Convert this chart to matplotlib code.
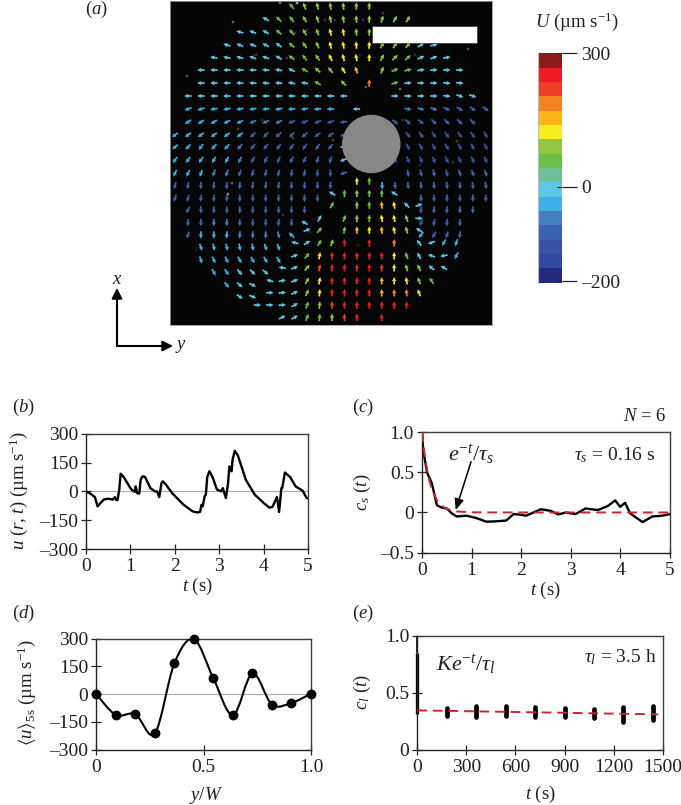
import numpy as np
import matplotlib
matplotlib.use("Agg")
import matplotlib.pyplot as plt
from matplotlib.colors import ListedColormap, BoundaryNorm
from matplotlib.patches import Circle, Rectangle, PathPatch, FancyArrowPatch
from matplotlib.path import Path

plt.rcParams['font.family'] = ['Liberation Serif', 'DejaVu Serif']
plt.rcParams['mathtext.fontset'] = 'custom'
plt.rcParams['mathtext.rm'] = 'Liberation Serif'
plt.rcParams['mathtext.it'] = 'Liberation Serif:italic'
plt.rcParams['mathtext.fallback'] = 'stix'

W, H = 681, 805
FS = 13.5
TICK_FS = 14
TXT = '#231f20'
FRAME = '#3d3d3d'

# colour bands of the colour bar, bottom to top
BAND_COLORS = ['#262a7c', '#2f4a9e', '#3853a4', '#3b62ad', '#4380c2', '#3db1e6', '#5cc8e8', '#6dc19a',
               '#6abd45', '#8fc740', '#f7ec1e', '#fdb515', '#f58220', '#ee3e24', '#ed1c24', '#8b1a1a']
BAND_TICKS = [16, 6.7, 0.1]
BAND_LABELS = ['300', '0', '\u2013200']

# vector field, outer grid: row position, first column, colour band (hex, '.' = no arrow), direction in degrees
OUTER_Y = [6, 19, 32, 45, 57.5, 70, 83, 96, 109, 122, 135, 147, 160, 173.3, 185.7, 198.3, 210, 222.7, 235,
           247.3, 260, 272.3, 285, 296.7]
OUTER_START = [9, 7, 5, 4, 3, 2, 2, 1, 1, 1, 0, 0, 0, 0, 0, 0, 1, 1, 1, 2, 2, 3, 4, 5]
OUTER_BANDS = [
    "8999999",
    "688999999999",
    "6668899aa99",
    "66666899aaaa99966",
    "666666889aaaa998666",
    "66666666899ab.9886666",
    "6666666668.9.c.866666",
    "6666666666666...6666666",
    "555555555555.6...4443333",
    "5555544433333...3333333",
    "55555533333333....2222222",
    "5555543333333 6....2222222".replace(" ", ""),
    "5555543333333 6...22222222".replace(" ", ""),
    "5554433333333 3....33333333".replace(" ", ""),
    "3333333333333...533333333",
    "333333333333.......333333",
    "3333333333........33333",
    "3344333336........3333",
    "355544445.........5333",
    "5555555",
    "5555555",
    "55666",
    "566",
    "66",
]
OUTER_ANGLES = [
    [130, 110, 105, 100, 95, 90, 90],
    [150, 135, 125, 120, 110, 105, 100, 95, 90, 75, 60, 60],
    [165, 160, 150, 140, 130, 120, 110, 105, 100, 95, 90],
    [165, 160, 160, 155, 145, 140, 125, 115, 105, 100, 95, 85, 60, 55, 50, 30, 15],
    [170, 170, 165, 160, 160, 150, 145, 130, 125, 115, 105, 100, 90, 60, 45, 40, 25, 20, 10],
    [180, 180, 180, 180, 180, 175, 170, 155, 150, 140, 130, 120, 110, 70, 25, 15, 10, 5, 0, 0],
    [180, 180, 180, 175, 175, 175, 175, 170, 170, 150, 135, 90, 15, 5, 0, 0, -5, -5],
    [180, 180, 180, 180, 180, 180, 180, 180, 180, 180, 180, 180, 180, 0, 0, 0, 0, -5, -20, -20],
    [200, 195, 190, 190, 190, 190, 185, 190, 185, 190, 185, 180, 180, -10, -15, -20, -25, -30, -35, -35],
    [215, 210, 210, 205, 205, 205, 205, 205, 200, 200, 200, 200, 190, -35, -40, -40, -45, -45, -45, -45],
    [215, 215, 215, 215, 215, 215, 225, 225, 225, 225, 220, 215, 215, 200, -50, -60, -55, -55, -55, -55, -60],
    [220, 225, 230, 225, 225, 230, 230, 230, 235, 235, 235, 235, 230, 180, -60, -60, -60, -60, -65, -65, -65],
    [235, 235, 235, 240, 240, 240, 240, 245, 245, 245, 245, 250, 250, 200, -70, -65, -65, -65, -65, -65, -65, -65],
    [245, 245, 250, 250, 250, 250, 255, 255, 255, 260, 260, 265, 270, 200, -80, -75, -75, -75, -70, -70, -70, -70],
    [255, 260, 265, 265, 265, 265, 265, 265, 265, 270, 270, 270, 270, 270, 275, -85, -85, -85, -85, -85, -80, -80],
    [250, 255, 260, 265, 265, 270, 270, 270, 270, 270, 270, 270, -90, -90, -90, -90, -90, -90],
    [240, 270, 270, 270, 270, 270, 270, 270, 270, 270, -100, -95, -95, -95, -95],
    [265, 270, 270, 270, 270, 270, 270, 265, 270, 150, -110, -100, -95, -95],
    [250, 270, 270, 265, 265, 270, 270, 285, 135, 230, 240, 250, 260],
    [290, 285, 285, 280, 280, 290, 290],
    [290, 295, 295, 300, 300, 300, 300],
    [300, 305, 310, 315, 320],
    [310, 320, 335],
    [325, 340],
]

# vector field, inner grid around and below the obstacle
INNER_Y = [181, 193.3, 205, 218.3, 230, 242.7, 255.7, 267.7, 280.7, 292.7, 305, 317.3]
INNER_START = [-1, -3, -3, -4, -5, -6, -6, -7, -8, -8, -9, -7]
INNER_BANDS = [
    "a8",
    "689886",
    "8.98ba66",
    "6.898aa96",
    "68.8baba96",
    "6689e.e.c.6655",
    "68aeeeeea86665",
    "669deeeeda9966",
    "6669aeeeebaa98",
    "6669aeeeebcca",
    "666689deeeeee",
    "66889de.e",
]
INNER_ANGLES = [
    [90, 90],
    [150, 90, 90, 90, 90, 150],
    [60, 90, 90, 95, 100, 135, 20],
    [60, 70, 90, 90, 100, 100, 110, 0],
    [20, 50, 80, 90, 90, 95, 100, 105, 150],
    [165, 30, 60, 70, 90, 90, 90, 130, 200, 240, 250],
    [20, 50, 80, 90, 90, 90, 90, 90, 90, 110, 120, 160, 190, 240],
    [170, 20, 50, 80, 85, 90, 90, 90, 90, 90, 105, 115, 140, 150],
    [165, 10, 20, 60, 80, 85, 90, 90, 90, 90, 90, 100, 110, 125],
    [0, 5, 25, 65, 85, 90, 90, 90, 90, 90, 90, 95, 110],
    [0, 0, 5, 30, 70, 85, 90, 90, 90, 90, 90, 90, 90],
    [25, 30, 70, 85, 90, 90, 90, 90],
]

# faint specks in the micrograph
SPECK_X = [297, 280, 233, 187, 468, 400, 366, 287, 383, 363, 335, 325, 295, 307, 317, 392, 360, 256, 277, 293, 238,
           403, 423, 457, 453, 232, 228, 415, 283, 310, 358, 196, 262, 333, 420]
SPECK_Y = [3, 3, 22, 76, 49, 89, 87, 58, 13, 20, 20, 20, 33, 30, 32, 70, 55, 55, 135, 138, 129, 120, 136, 141, 162,
           183, 194, 55, 215, 232, 245, 250, 120, 140, 165]
SPECK_C = ['#a898a8', '#6a6a6a', '#5a5a5a', '#585858', '#505050', '#606060', '#505050', '#5a2360', '#501e58', '#5a2360',
           '#501e58', '#501e58', '#501e58', '#501e58', '#501e58', '#3a1a40', '#18204a', '#4a3434', '#4b4018', '#4b4018',
           '#4b4018', '#352f10', '#352f10', '#4b4018', '#352f10', '#6a5a30', '#908050', '#3a1a40', '#352a10', '#352a10',
           '#2a1e10', '#2a1e10', '#352a10', '#4b4018', '#352a10']

# panel b
B_T = [0, .1, .2, .26, .33, .4, .5, .6, .65, .68, .71, .75, .78, .85, 1, 1.05, 1.1, 1.12, 1.15, 1.2, 1.23, 1.27, 1.33,
       1.45, 1.55, 1.6, 1.65, 1.7, 1.73, 1.8, 1.95, 2.2, 2.4, 2.5, 2.57, 2.6, 2.63, 2.67, 2.7, 2.73, 2.78, 2.85, 2.95,
       3.05, 3.08, 3.15, 3.2, 3.23, 3.28, 3.3, 3.35, 3.42, 3.6, 3.8, 4, 4.13, 4.2, 4.3, 4.35, 4.4, 4.42, 4.48, 4.6,
       4.72, 4.88, 4.97, 5]
B_U = [0, -12, -30, -78, -60, -43, -38, -43, -30, -45, -45, 10, 92, 74, 17, 4, -2, 26, -9, -12, 60, 78, 75,
       17, 0, 0, -30, 43, 52, 35, -12, -70, -104, -110, -107, -70, -78, -26, -17, 74, 105, 74, 9,
       0, 17, -35, 43, 130, 104, 164, 211, 187, 60, -17, -60, -85, -81, -30, -107, 17, 17, 98, 74,
       26, 3, -35, -36]

# panel c
C_T = [0, .02, .1, .2, .3, .4, .5, .6, .7, .9, 1.1, 1.3, 1.5, 1.7, 1.85, 1.95, 2.1, 2.25, 2.4, 2.6, 2.75, 2.9, 3.1, 3.3,
       3.55, 3.75, 3.9, 4, 4.1, 4.2, 4.45, 4.65, 4.85, 5]
C_S = [1, .8, .5, .36, .09, .06, .05, -.01, -.05, -.04, -.07, -.115, -.11, -.10, -.02, -.025, -.04, 0, .04, .02, -.025, 0,
       -.02, .05, .03, .08, .15, .07, .12, -.01, -.12, -.05, -.04, -.02]
C_FIT_T = [0, .05, .1, .15, .2, .3, .4, .5, .7, 1, 1.5, 5]
C_FIT = [1, .73, .535, .39, .287, .153, .082, .044, .0125, .002, 0, 0]

# panel d
D_Y = [0, .0909, .1818, .2727, .3636, .4545, .5455, .6364, .7273, .8182, .9091, 1]
D_U = [0, -112, -108, -212, 167, 298, 85, -113, 112, -56, -47, 3]

# panel e
E_T = [180, 360, 540, 720, 900, 1080, 1260, 1440]
E_LOW = [.295, .287, .30, .289, .289, .28, .245, .263]
E_HIGH = [.368, .386, .383, .371, .368, .36, .374, .38]
E_FIT_T = [0, 1473]
E_FIT = [.345, .31]


def px_ax(x0, y0, x1, y1):
    return fig.add_axes([x0 / W, 1 - y1 / H, (x1 - x0) / W, (y1 - y0) / H])


def label(x, y, s, **kw):
    kw.setdefault('fontsize', FS)
    kw.setdefault('ha', 'center')
    kw.setdefault('va', 'center')
    fig.text(x / W, 1 - y / H, s, color=TXT, **kw)


def style_ax(ax, xt, xl, yt, yl):
    ax.set_xticks(xt)
    ax.set_xticklabels(xl)
    ax.set_yticks(yt)
    ax.set_yticklabels(yl)
    ax.tick_params(direction='inout', length=7.5, width=0.9, color='#222222', labelsize=TICK_FS, labelcolor=TXT)
    ax.tick_params(axis='y', pad=2)
    ax.tick_params(axis='x', pad=3)
    for s in ax.spines.values():
        s.set_color(FRAME)
        s.set_linewidth(1.0)
    ax.spines['left'].set_color('#222222')
    ax.spines['bottom'].set_color('#222222')


fig = plt.figure(figsize=(W / 100, H / 100), dpi=100, facecolor='white')

# panel a
ax = px_ax(170, 1, 491.7, 325)
ax.set_xlim(170, 491.7)
ax.set_ylim(325, 1)
ax.set_facecolor('#050505')
ax.set_xticks([])
ax.set_yticks([])
for s in ax.spines.values():
    s.set_color('#9a9a9a')
    s.set_linewidth(0.6)
ax.scatter(SPECK_X, SPECK_Y, s=4, c=SPECK_C, linewidths=0, zorder=1)

xs, ys, bands, angs = [], [], [], []
for y, start, row, ang in zip(OUTER_Y, OUTER_START, OUTER_BANDS, OUTER_ANGLES):
    used = [c for c, b in enumerate(row) if b != '.']
    for c, a in zip(used, ang):
        xs.append(175 + 12.95 * (start + c))
        ys.append(y)
        bands.append(int(row[c], 16))
        angs.append(a)
for y, start, row, ang in zip(INNER_Y, INNER_START, INNER_BANDS, INNER_ANGLES):
    used = [c for c, b in enumerate(row) if b != '.']
    for c, a in zip(used, ang):
        xs.append(369.3 + 12.43 * (start + c))
        ys.append(y)
        bands.append(int(row[c], 16))
        angs.append(a)
rad = np.radians(angs)
band_cmap = ListedColormap(BAND_COLORS)
band_norm = BoundaryNorm(np.arange(17), 16)
ax.quiver(xs, ys, 7.5 * np.cos(rad), -7.5 * np.sin(rad), bands, cmap=band_cmap, norm=band_norm,
          angles='xy', scale_units='xy', scale=1, pivot='mid', units='xy', width=1.7,
          headwidth=2.6, headlength=2.6, headaxislength=2.3, zorder=2)
ax.add_patch(Circle((371.3, 144), 29.2, facecolor='#878787', edgecolor='none', zorder=3))
ax.add_patch(Rectangle((371.7, 26), 105.6, 17.3, facecolor='white', edgecolor='#222222', linewidth=0.4, zorder=4))

# colour bar
cax = px_ax(537.7, 53.3, 561.7, 282.7)
cax.pcolormesh([0, 1], np.arange(17), np.arange(16).reshape(-1, 1), cmap=band_cmap, norm=band_norm)
cax.set_xticks([])
cax.set_ylim(0, 16)
cax.yaxis.tick_right()
cax.set_yticks(BAND_TICKS)
cax.set_yticklabels(BAND_LABELS)
cax.tick_params(length=11, width=0.9, color='#222222', labelsize=TICK_FS, labelcolor=TXT, pad=3)
cax.hlines(BAND_TICKS, 0.82, 1, color='#222222', linewidth=0.9)
for name, s in cax.spines.items():
    s.set_visible(name == 'left')
    s.set_color('#bbbbbb')
label(577, 22, '$U$ (\u00b5m s$^{-1}$)')

# axes key and panel letter
fa = dict(arrowstyle='-|>,head_length=0.55,head_width=0.28', color='black', lw=1.5, shrinkA=0, shrinkB=0,
          mutation_scale=11)
fig.add_artist(FancyArrowPatch((117 / W, 1 - 346 / H), (117 / W, 1 - 288 / H), transform=fig.transFigure, **fa))
fig.add_artist(FancyArrowPatch((117 / W, 1 - 346 / H), (173 / W, 1 - 346 / H), transform=fig.transFigure, **fa))
label(117, 279, '$x$')
label(181, 346, '$y$')
label(96, 9, '($a$)')

# panel b
ax = px_ax(86, 433.7, 308, 549)
ax.axhline(0, color='#aaaaaa', lw=0.8, zorder=1)
ax.plot(B_T, B_U, color='black', lw=1.7, zorder=3, solid_joinstyle='round')
ax.set_xlim(0, 5)
ax.set_ylim(-300, 300)
style_ax(ax, range(6), [str(i) for i in range(6)], [-300, -150, 0, 150, 300],
         ['\u2013300', '\u2013150', '0', '150', '300'])
label(12, 407, '($b$)', ha='left')
label(19, 491, '$u$ ($r$, $t$) (\u00b5m s$^{-1}$)', rotation=90)
label(197, 586, '$t$ (s)')

# panel c
ax = px_ax(422, 432, 669.7, 552.7)
ax.plot(C_T, C_S, color='black', lw=1.7, zorder=2)
ax.plot(C_FIT_T, C_FIT, color='#d2232a', lw=1.4, dashes=(5, 3), zorder=3)
ax.set_xlim(0, 5)
ax.set_ylim(-.5, 1)
style_ax(ax, range(6), [str(i) for i in range(6)], [-.5, 0, .5, 1], ['\u20130.5', '0', '0.5', '1.0'])
ax.annotate('', xy=(.68, .03), xytext=(.99, .63),
            arrowprops=dict(arrowstyle='-|>,head_length=0.6,head_width=0.25', color='black', lw=1.1, shrinkA=0,
                            shrinkB=0, mutation_scale=11))
label(352, 407, '($c$)', ha='left')
label(666, 416, '$N$ = 6', ha='right')
label(362, 492, '$c_s$ ($t$)', rotation=90)
label(545, 590, '$t$ (s)')
label(471, 455, r'$e^{-t}$/$\tau_s$', fontsize=16)
label(615, 455, r'$\tau_s$ = 0.16 s', fontsize=14)

# panel d
ax = px_ax(96.3, 638.7, 311, 749.7)
ax.axhline(0, color='#aaaaaa', lw=0.8, zorder=1)
# smooth curve through the points, Catmull-Rom control points
pts = np.column_stack([D_Y, D_U])
padded = np.vstack([pts[0], pts, pts[-1]])
verts, codes = [pts[0]], [Path.MOVETO]
for i in range(1, len(padded) - 2):
    verts += [padded[i] + (padded[i + 1] - padded[i - 1]) / 6, padded[i + 1] - (padded[i + 2] - padded[i]) / 6,
              padded[i + 1]]
    codes += [Path.CURVE4] * 3
ax.add_patch(PathPatch(Path(verts, codes), facecolor='none', edgecolor='black', lw=1.5, zorder=3))
ax.scatter(D_Y, D_U, s=50, color='black', zorder=4, clip_on=False, linewidths=0)
ax.set_xlim(0, 1)
ax.set_ylim(-300, 300)
style_ax(ax, [0, .5, 1], ['0', '0.5', '1.0'], [-300, -150, 0, 150, 300],
         ['\u2013300', '\u2013150', '0', '150', '300'])
label(12, 613, '($d$)', ha='left')
label(27, 693, '$\\langle u\\rangle_{5\\mathrm{s}}$ (\u00b5m s$^{-1}$)', rotation=90)
label(206, 795, '$y/W$')

# panel e
ax = px_ax(417.3, 635.7, 662.7, 749.7)
ax.vlines(E_T, E_LOW, E_HIGH, color='black', lw=3.4, capstyle='round', zorder=2)
ax.vlines(0, .31, .85, color='black', lw=2.4, zorder=2, clip_on=False)
ax.vlines(0, .85, 1, color='black', lw=1.2, zorder=2, clip_on=False)
ax.plot(E_FIT_T, E_FIT, color='#d2232a', lw=1.4, dashes=(5, 3), zorder=3)
ax.set_xlim(0, 1500)
ax.set_ylim(0, 1)
style_ax(ax, [0, 300, 600, 900, 1200, 1500], ['0', '300', '600', '900', '1200', '1500'], [0, .5, 1],
         ['0', '0.5', '1.0'])
label(352, 613, '($e$)', ha='left')
label(362, 692, '$c_l$ ($t$)', rotation=90)
label(540, 794, '$t$ (s)')
label(466, 665, r'$Ke^{-t}$/$\tau_l$', fontsize=16)
label(620, 657, r'$\tau_l$ = 3.5 h', fontsize=14)

fig.savefig('out.png', dpi=100)
